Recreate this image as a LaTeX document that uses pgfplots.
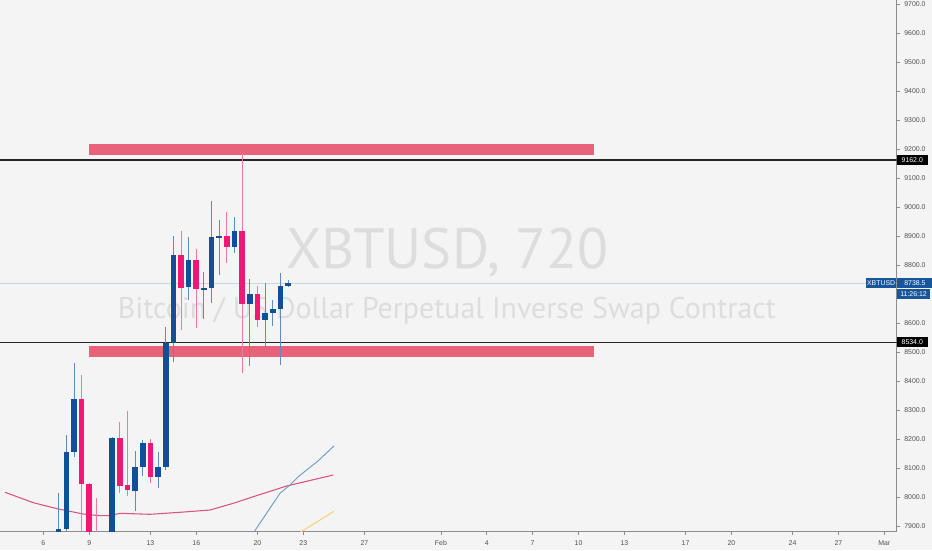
\documentclass[border=0pt]{standalone}
\usepackage{pgfplots}
\pgfplotsset{compat=1.18}
\usepackage{pgfplotstable}
\usepackage{fontspec}
\setmainfont{Liberation Sans}
\newfontfamily\wmfont{PT Sans}
\definecolor{bg}{RGB}{244,244,244}
\definecolor{upc}{RGB}{16,80,150}
\definecolor{dnc}{RGB}{240,24,116}
\definecolor{upw}{RGB}{95,140,192}
\definecolor{dnw}{RGB}{242,118,166}
\definecolor{zone}{RGB}{231,98,122}
\definecolor{maone}{RGB}{217,84,122}
\definecolor{matwo}{RGB}{110,155,205}
\definecolor{mathree}{RGB}{246,208,125}
\definecolor{wm}{RGB}{221,221,221}
\definecolor{lbl}{RGB}{24,86,156}
\definecolor{axc}{RGB}{140,140,140}
\definecolor{tickc}{RGB}{80,80,80}
\definecolor{lastline}{RGB}{205,212,225}

% up (blue) candles: time (day of Jan), open, high, low, close
\pgfplotstableread{
t o h l c
7.0 7878 8014.4 7860 7890
7.5 7890 8214.4 7870 8155.8
8.0 8155.8 8462.6 8140 8338.5
10.0 7760 7850 7700 7810
10.5 7800 8208 7780 8205
12.0 8021.3 8159.2 7953.4 8104.1
12.5 8104.1 8197.1 8073 8186.8
13.5 8069.6 8156.8 8032.7 8104.1
14.0 8104.1 8587.7 8095 8530.5
14.5 8530.5 8900.4 8466 8834.9
15.5 8724.6 8897 8679.8 8817.7
16.5 8717.7 8776.3 8614.3 8721.1
17.0 8721.1 9022.1 8670.5 8897
17.5 8894.6 8955.6 8766 8900.4
18.5 8863.5 8965.9 8841.8 8917.6
19.5 8666 8752.2 8452.3 8700.5
20.5 8610.8 8739.4 8517.8 8635
21.0 8635 8679.8 8590.2 8648.8
21.5 8648.8 8772.9 8455.7 8728
22.0 8728 8748.7 8726 8738.5
}\upc

% down (pink) candles
\pgfplotstableread{
t o h l c
8.5 8338.5 8421.2 7850 8045.5
9.0 8045.5 8050 7780 7820
9.5 7860 7997.2 7700 7750
11.0 8205 8260.2 8014.4 8039.6
11.5 8042 8297.1 8004.1 8024.8
13.0 8186.8 8200.6 8048.9 8069.6
15.0 8834.9 8917.6 8576.4 8722.2
16.0 8817.7 8855.6 8583.3 8717.7
18.0 8900.4 8983.2 8808.4 8863.5
19.0 8917.6 9187.6 8429.1 8666
20.0 8700.5 8729 8586.7 8610.8
}\dnc

\pgfplotsset{
  candle/.style 2 args={draw=none, mark=none, forget plot,
    error bars/.cd, y dir=both, y explicit, error mark=none,
    error bar style={draw=#1, solid, line width=#2}},
}
\tikzset{lblfont/.style={font=\fontsize{5.2}{6}\selectfont}}

\begin{document}
\begin{tikzpicture}
\fill[bg] (0,0) rectangle (699pt,412.5pt);
\node[anchor=base, text=wm, inner sep=0pt] at (335.7pt,211.3pt)
  {\resizebox{241.5pt}{!}{\wmfont XBTUSD, 720}};
\node[anchor=base, text=wm, inner sep=0pt] at (335.2pt,173.8pt)
  {\resizebox{493.5pt}{!}{\wmfont Bitcoin / US Dollar Perpetual Inverse Swap Contract}};
\begin{axis}[
  at={(0pt,13.5pt)}, anchor=south west,
  scale only axis, width=672.5pt, height=399pt,
  xmin=3.1616, xmax=61.81, ymin=7880, ymax=9714,
  axis x line*=bottom, axis y line*=right,
  axis line style={axc, line width=0.75pt},
  tick align=outside, major tick length=2.2pt,
  tick style={axc, line width=0.5pt},
  clip mode=individual,
  xtick={6,9,13,16,20,23,27,32,35,38,41,44,48,51,55,58,61},
  xticklabels={6,9,13,16,20,23,27,Feb,4,7,10,13,17,20,24,27,Mar},
  ytick={7900,8000,8100,8200,8300,8400,8500,8600,8800,8900,9000,9100,9200,9300,9400,9500,9600,9700},
  /pgf/number format/assume math mode=true,
  yticklabel style={lblfont, text=tickc,
    /pgf/number format/.cd, fixed, fixed zerofill, precision=1, 1000 sep={}},
  xticklabel style={lblfont, text=tickc, yshift=-0.8pt},
]
% last price line
\addplot[lastline, line width=0.6pt, forget plot] coordinates {(3.1616,8738.5) (61.81,8738.5)};
% supply / demand zones
\addplot[fill=zone, draw=none, forget plot] coordinates {(9,9180) (42,9180) (42,9218.5) (9,9218.5)} -- cycle;
\addplot[fill=zone, draw=none, forget plot] coordinates {(9,8482.6) (42,8482.6) (42,8520) (9,8520)} -- cycle;
% horizontal levels
\addplot[black!85, line width=1pt, forget plot] coordinates {(3.1616,9162) (61.81,9162)};
\addplot[black!85, line width=1pt, forget plot] coordinates {(3.1616,8534) (61.81,8534)};
% moving averages
\addplot[maone, line width=0.8pt, forget plot] coordinates {
(3.489,8016.9) (5.340,7981.0) (6.975,7959.3) (8.610,7942.0) (9.702,7936.2)
(10.356,7936.2) (11.010,7944.5) (12.972,7941.0) (14.934,7947.9) (16.896,7955.8)
(18.420,7978.9) (19.728,8001.7) (21.913,8038.6) (24.961,8076.5)};
\addplot[matwo, line width=0.7pt, forget plot] coordinates {
(19.64,7869.6) (21.474,8013.4) (22.128,8042.0) (22.671,8070.6) (23.980,8125.8) (25.006,8176.5)};
\addplot[mathree, line width=0.8pt, forget plot] coordinates {(22.52,7869.6) (25.006,7951.4)};
% wicks
\addplot[candle={upw}{0.7pt}]
  table[x=t, y expr={(\thisrow{h}+\thisrow{l})/2}, y error expr={(\thisrow{h}-\thisrow{l})/2}] {\upc};
\addplot[candle={dnw}{0.7pt}]
  table[x=t, y expr={(\thisrow{h}+\thisrow{l})/2}, y error expr={(\thisrow{h}-\thisrow{l})/2}] {\dnc};
% bodies
\addplot[candle={upc}{4.2pt}]
  table[x=t, y expr={(\thisrow{o}+\thisrow{c})/2}, y error expr={max(abs(\thisrow{c}-\thisrow{o})/2,2.5)}] {\upc};
\addplot[candle={dnc}{4.2pt}]
  table[x=t, y expr={(\thisrow{o}+\thisrow{c})/2}, y error expr={max(abs(\thisrow{c}-\thisrow{o})/2,2.5)}] {\dnc};
% price labels on the scale
\node[fill=lbl, text=white, lblfont, anchor=east, inner sep=0pt,
  minimum height=7.2pt, minimum width=23pt] at ({rel axis cs:1,0} |- {axis cs:30,8738.5}) {XBTUSD};
\node[fill=lbl, text=white, lblfont, anchor=west, inner sep=0pt,
  minimum height=7.2pt, minimum width=27pt] at ({rel axis cs:1,0} |- {axis cs:30,8738.5}) {8738.5};
\node[fill=lbl, text=white, lblfont, anchor=north west, inner sep=0pt,
  minimum height=7.2pt, minimum width=25pt, yshift=-4.4pt] at ({rel axis cs:1,0} |- {axis cs:30,8738.5}) {11:26:12};
\node[fill=black, text=white, lblfont, anchor=west, inner sep=0pt,
  minimum height=7.5pt, minimum width=23pt] at ({rel axis cs:1,0} |- {axis cs:30,9162}) {9162.0};
\node[fill=black, text=white, lblfont, anchor=west, inner sep=0pt,
  minimum height=7.5pt, minimum width=23pt] at ({rel axis cs:1,0} |- {axis cs:30,8534}) {8534.0};
\end{axis}
\pgfresetboundingbox
\useasboundingbox (0,0) rectangle (699pt,412.5pt);
\end{tikzpicture}
\end{document}
